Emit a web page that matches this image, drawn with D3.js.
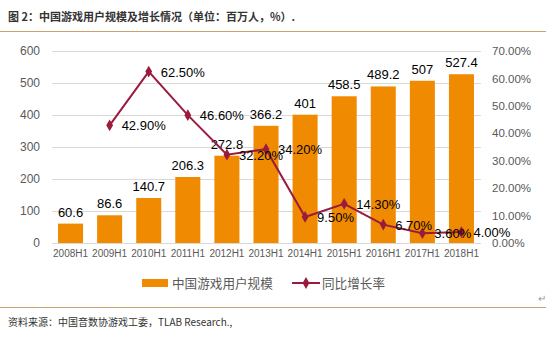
<!DOCTYPE html>
<html><head><meta charset="utf-8">
<script src="https://cdn.jsdelivr.net/npm/d3@7"></script>
<style>body{margin:0;background:#fff;}svg{display:block;}</style>
</head><body>
<script>
const categories = ["2008H1","2009H1","2010H1","2011H1","2012H1","2013H1","2014H1","2015H1","2016H1","2017H1","2018H1"];
const users = [60.6, 86.6, 140.7, 206.3, 272.8, 366.2, 401, 458.5, 489.2, 507, 527.4];
const growth = [null, 42.9, 62.5, 46.6, 32.2, 34.2, 9.5, 14.3, 6.7, 3.6, 4.0];
const leftTicks = [0,100,200,300,400,500,600];
const rightTicks = [0,10,20,30,40,50,60,70];
const title = "图 2：中国游戏用户规模及增长情况（单位：百万人，%）.";
const source = "资料来源：中国音数协游戏工委，TLAB Research.,";
const seriesNames = ["中国游戏用户规模","同比增长率"];

const W=546,H=355;
const svg=d3.select("body").append("svg").attr("width",W).attr("height",H);
const font="'Liberation Sans', Arial, 'Noto Sans CJK SC', sans-serif";
const cjk="'Noto Sans CJK SC', 'Liberation Sans', sans-serif";
const barColor="#F08A00", lineColor="#9B1B3E", txtGray="#595959";

svg.append("text").attr("x",8).attr("y",21).attr("font-family",cjk).attr("font-size",11).attr("font-weight","bold").attr("fill","#333").text(title);
svg.append("line").attr("x1",0).attr("x2",W).attr("y1",31.5).attr("y2",31.5).attr("stroke","#C9A46E").attr("stroke-width",1);
svg.append("line").attr("x1",0).attr("x2",W).attr("y1",307.5).attr("y2",307.5).attr("stroke","#C9A46E").attr("stroke-width",1);
svg.append("text").attr("x",8).attr("y",326).attr("font-family",cjk).attr("font-size",10).attr("fill","#333").text(source);
svg.append("text").attr("x",538).attr("y",302).attr("font-family",font).attr("font-size",10).attr("fill","#999").text("↵");

const x=d3.scaleBand().domain(categories).range([51,481]).paddingInner(0.36).paddingOuter(0.18);
const yL=d3.scaleLinear().domain([0,600]).range([243,51]);
const yR=d3.scaleLinear().domain([0,70]).range([243,51]);

// gridlines
svg.append("g").selectAll("line").data(leftTicks.slice(1)).join("line")
  .attr("x1",52).attr("x2",481).attr("y1",d=>Math.round(yL(d))+0.5).attr("y2",d=>Math.round(yL(d))+0.5)
  .attr("stroke","#D9D9D9").attr("stroke-width",1);

// left axis
const gL=svg.append("g").attr("transform","translate(44,0)")
  .call(d3.axisLeft(yL).tickValues(leftTicks).tickSize(0).tickPadding(4));
gL.select(".domain").remove();
gL.selectAll("text").attr("font-family",font).attr("font-size",12).attr("fill",txtGray);

// right axis
const gR=svg.append("g").attr("transform","translate(488,0)")
  .call(d3.axisRight(yR).tickValues(rightTicks).tickSize(0).tickPadding(4).tickFormat(d=>d.toFixed(2)+"%"));
gR.select(".domain").remove();
gR.selectAll("text").attr("font-family",font).attr("font-size",11.5).attr("fill",txtGray);

// bars
svg.append("g").selectAll("rect").data(users).join("rect")
  .attr("x",(d,i)=>x(categories[i])).attr("width",x.bandwidth())
  .attr("y",d=>yL(d)).attr("height",d=>yL(0)-yL(d)).attr("fill",barColor);

// baseline
svg.append("line").attr("x1",52).attr("x2",481).attr("y1",243.5).attr("y2",243.5).attr("stroke","#D9D9D9");

// x axis
const gX=svg.append("g").attr("transform","translate(0,243)")
  .call(d3.axisBottom(x).tickSize(0).tickPadding(7));
gX.select(".domain").remove();
gX.selectAll("text").attr("font-family",font).attr("font-size",10).attr("fill",txtGray);

// bar labels
svg.append("g").selectAll("text").data(users).join("text")
  .attr("x",(d,i)=>x(categories[i])+x.bandwidth()/2).attr("y",d=>yL(d)-7)
  .attr("text-anchor","middle").attr("font-family",font).attr("font-size",13).attr("fill","#000")
  .text(d=>d);

// line
const pts=growth.map((g,i)=>({c:categories[i],g})).filter(p=>p.g!=null);
const line=d3.line().x(p=>x(p.c)+x.bandwidth()/2).y(p=>yR(p.g));
svg.append("path").datum(pts).attr("d",line).attr("fill","none").attr("stroke",lineColor).attr("stroke-width",2);
const diamond=d3.symbol().type(d3.symbolDiamond).size(40);
svg.append("g").selectAll("path").data(pts).join("path")
  .attr("d",diamond).attr("transform",p=>`translate(${x(p.c)+x.bandwidth()/2},${yR(p.g)})`).attr("fill",lineColor);
svg.append("g").selectAll("text").data(pts).join("text")
  .attr("x",p=>x(p.c)+x.bandwidth()/2+12).attr("y",p=>yR(p.g)+5)
  .attr("font-family",font).attr("font-size",13).attr("fill","#000")
  .text(p=>p.g.toFixed(2)+"%");

// legend
const lg=svg.append("g");
lg.append("rect").attr("x",142).attr("y",279).attr("width",26).attr("height",8).attr("fill",barColor);
lg.append("text").attr("x",172).attr("y",288).attr("font-family",cjk).attr("font-size",12.6).attr("fill",txtGray).text(seriesNames[0]);
lg.append("line").attr("x1",292).attr("x2",320).attr("y1",283).attr("y2",283).attr("stroke",lineColor).attr("stroke-width",2);
lg.append("path").attr("d",diamond).attr("transform","translate(306,283)").attr("fill",lineColor);
lg.append("text").attr("x",322).attr("y",288).attr("font-family",cjk).attr("font-size",12.6).attr("fill",txtGray).text(seriesNames[1]);
</script>
</body></html>
